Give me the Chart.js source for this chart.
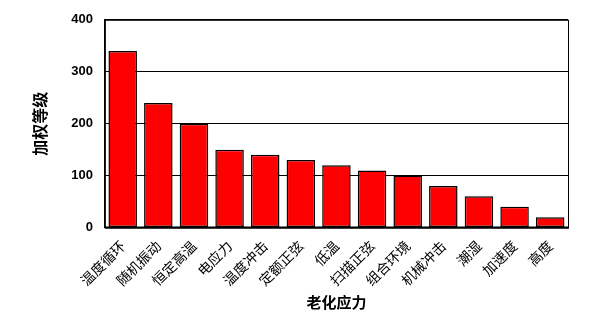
<!DOCTYPE html>
<html lang="zh">
<head>
  <meta charset="UTF-8" />
  <title>老化应力</title>
  <script src="https://cdn.jsdelivr.net/npm/chart.js@4/dist/chart.umd.min.js"></script>
  <style>
    html, body { margin: 0; padding: 0; background: #fff; }
    #wrap { width: 591px; height: 317px; position: relative; }
  </style>
</head>
<body>
  <div id="wrap"><canvas id="barChart"></canvas></div>

  <script>
    const categories = ['温度循环', '随机振动', '恒定高温', '电应力', '温度冲击', '定额正弦', '低温',
                        '扫描正弦', '组合环境', '机械冲击', '潮湿', '加速度', '高度']
    const weights = [340, 240, 200, 150, 140, 130, 120, 110, 100, 80, 60, 40, 20]
    const yTicks = [0, 100, 200, 300, 400]

    // black frame round the plot area
    const frame = {
      id: 'frame',
      afterDraw(chart) {
        const { ctx, chartArea: a } = chart
        ctx.save()
        ctx.strokeStyle = '#000'
        ctx.lineWidth = 1
        ctx.strokeRect(a.left + 0.5, a.top + 0.5, a.right - a.left, a.bottom - a.top)
        ctx.lineWidth = 2
        ctx.beginPath()
        ctx.moveTo(a.left, a.bottom)
        ctx.lineTo(a.right + 1, a.bottom)
        ctx.stroke()
        ctx.restore()
      }
    }

    const ctx = document.getElementById('barChart').getContext('2d')
    new Chart(ctx, {
      type: 'bar',
      data: {
        labels: categories,
        datasets: [{
          data: weights,
          backgroundColor: '#ff0000',
          borderColor: '#000',
          borderWidth: 1.5,
          borderSkipped: false,
          barPercentage: 0.8,
          categoryPercentage: 1
        }]
      },
      options: {
        responsive: true,
        maintainAspectRatio: false,
        animation: false,
        layout: { padding: { top: 18, right: 23, left: 26, bottom: 2 } },
        plugins: { legend: { display: false }, tooltip: { enabled: false } },
        scales: {
          x: {
            grid: { display: false },
            border: { color: '#000' },
            ticks: {
              color: '#000',
              minRotation: 45,
              maxRotation: 45,
              padding: 2,
              font: { family: '"Noto Sans CJK SC"', size: 14 }
            },
            title: {
              display: true,
              text: '老化应力',
              color: '#000',
              padding: { top: 2 },
              font: { family: '"Noto Sans CJK SC"', size: 15, weight: 'bold' }
            }
          },
          y: {
            min: 0,
            max: 400,
            afterBuildTicks(axis) { axis.ticks = yTicks.map(v => ({ value: v })) },
            grid: { color: '#000', drawTicks: false },
            border: { color: '#000' },
            ticks: {
              color: '#000',
              padding: 12,
              font: { family: '"Liberation Sans", Arial', size: 13, weight: 'bold' }
            },
            title: {
              display: true,
              text: '加权等级',
              color: '#000',
              padding: { bottom: 10 },
              font: { family: '"Noto Sans CJK SC"', size: 16, weight: 'bold' }
            }
          }
        }
      },
      plugins: [frame]
    })
  </script>
</body>
</html>
